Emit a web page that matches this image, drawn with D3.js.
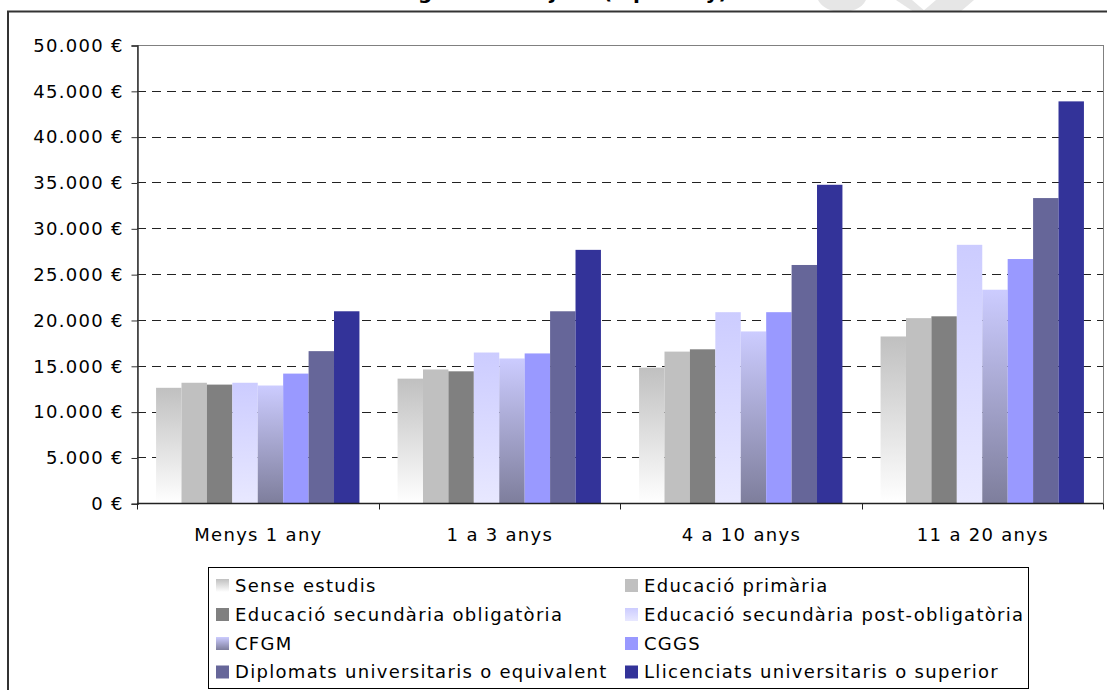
<!DOCTYPE html>
<html>
<head>
<meta charset="utf-8">
<script src="https://cdn.jsdelivr.net/npm/d3@7"></script>
<style>
  html, body { margin: 0; padding: 0; background: #fff; }
  svg { display: block; }
  text { font-family: "DejaVu Sans", Verdana, sans-serif; fill: #000; }
</style>
</head>
<body>
<svg id="chart" width="1107" height="690"></svg>
<script>
// ---- data ----
const categories = ["Menys 1 any", "1 a 3 anys", "4 a 10 anys", "11 a 20 anys"];
const series = [
  "Sense estudis",
  "Educació primària",
  "Educació secundària obligatòria",
  "Educació secundària post-obligatòria",
  "CFGM",
  "CGGS",
  "Diplomats universitaris o equivalent",
  "Llicenciats universitaris o superior"
];
const senseEstudis      = [12600, 13600, 14800, 18200];
const primaria          = [13150, 14600, 16550, 20200];
const secObligatoria    = [12950, 14400, 16800, 20400];
const secPostObligatoria= [13150, 16450, 20850, 28200];
const cfgm              = [12850, 15800, 18750, 23300];
const cggs              = [14150, 16350, 20850, 26650];
const diplomats         = [16600, 20950, 26000, 33300];
const llicenciats       = [20950, 27650, 34750, 43850];
const seriesValues = [senseEstudis, primaria, secObligatoria, secPostObligatoria, cfgm, cggs, diplomats, llicenciats];
const yTicks = [0, 5000, 10000, 15000, 20000, 25000, 30000, 35000, 40000, 45000, 50000];
const titleText = "Ingressos mitjans (€ per any)";

// ---- styles ----
const fills = ["url(#gSense)", "#c0c0c0", "#808080", "url(#gPost)", "url(#gCfgm)", "#9999ff", "#666699", "#333399"];

const svg = d3.select("#chart");
const defs = svg.append("defs");
function grad(id, c1, c2) {
  const g = defs.append("linearGradient").attr("id", id)
    .attr("x1", 0).attr("y1", 0).attr("x2", 0).attr("y2", 1);
  g.append("stop").attr("offset", "0%").attr("stop-color", c1);
  g.append("stop").attr("offset", "100%").attr("stop-color", c2);
}
grad("gSense", "#c0c0c0", "#ffffff");
grad("gPost", "#ccccff", "#e8e8ff");
grad("gCfgm", "#ccccff", "#7e7e9c");

const FS = 18, LS = 1.3;

// watermark fragments (top right)
svg.append("path").attr("d", "M818,0 L866,0 C862,9 850,12 842,12 C832,12 822,8 818,0 Z").attr("fill", "#e6e6e6");
svg.append("path").attr("d", "M896,0 L912,0 L926,12 L914,12 Z M936,0 L974,0 L960,12 L922,12 Z").attr("fill", "#e6e6e6");

// cut-off title
svg.append("text").attr("x", 562).attr("y", -1).attr("text-anchor", "middle")
  .attr("font-size", 20).attr("font-weight", "bold").text(titleText);

// outer frame
svg.append("rect").attr("x", 8).attr("y", 11.5).attr("width", 1140).attr("height", 700)
  .attr("fill", "none").attr("stroke", "#333").attr("stroke-width", 2);

// scales
const pLeft = 137, pRight = 1103, pTop = 45, pBottom = 503.3;
const x0 = d3.scaleBand().domain(categories).range([pLeft, pRight]).paddingInner(0).paddingOuter(0);
const x1 = d3.scaleBand().domain(series).range([0, x0.bandwidth()]).paddingInner(0).paddingOuter(0.75);
const y = d3.scaleLinear().domain([0, 50000]).range([pBottom, pTop]);

// plot border
svg.append("rect").attr("x", pLeft + 0.5).attr("y", Math.round(y(50000)) + 0.5)
  .attr("width", pRight - pLeft).attr("height", Math.round(y(0)) - Math.round(y(50000)))
  .attr("fill", "#fff").attr("stroke", "#808080").attr("stroke-width", 1);

// gridlines
svg.append("g").selectAll("line").data(yTicks.filter(t => t > 0 && t < 50000)).join("line")
  .attr("x1", pLeft).attr("x2", pRight)
  .attr("y1", d => Math.round(y(d)) + 0.5).attr("y2", d => Math.round(y(d)) + 0.5)
  .attr("stroke", "#222").attr("stroke-width", 1).attr("stroke-dasharray", "9,6");

// bars
const groups = svg.append("g").selectAll("g").data(categories).join("g")
  .attr("transform", c => `translate(${x0(c)},0)`);
groups.selectAll("rect").data((c, ci) => series.map((s, si) => ({ s, si, v: seriesValues[si][ci] }))).join("rect")
  .attr("x", d => x1(d.s)).attr("width", x1.bandwidth())
  .attr("y", d => y(d.v)).attr("height", d => y(0) - y(d.v))
  .attr("fill", d => fills[d.si]);

// y axis
const fmt = d3.formatLocale({ decimal: ",", thousands: ".", grouping: [3], currency: ["", " €"] }).format(",.0f");
const yAxis = d3.axisLeft(y).tickValues(yTicks).tickSize(6).tickPadding(9).tickFormat(d => fmt(d) + " €");
const gy = svg.append("g").attr("transform", `translate(${pLeft + 0.5},0.5)`).call(yAxis);
gy.select(".domain").attr("stroke", "#333").attr("stroke-width", 1.5);
gy.selectAll(".tick line").attr("stroke", "#333");
gy.selectAll(".tick text").attr("font-size", FS).attr("letter-spacing", LS)
  .attr("font-family", "DejaVu Sans").attr("fill", "#000").attr("dx", LS);

// x axis
const gx = svg.append("g").attr("transform", `translate(0,${Math.round(y(0)) + 0.5})`);
gx.append("line").attr("x1", pLeft).attr("x2", pRight).attr("stroke", "#222").attr("stroke-width", 1.5);
gx.selectAll("line.tk").data(d3.range(categories.length + 1)).join("line").attr("class", "tk")
  .attr("x1", i => Math.round(pLeft + i * x0.step()) + 0.5).attr("x2", i => Math.round(pLeft + i * x0.step()) + 0.5)
  .attr("y1", 0).attr("y2", 6).attr("stroke", "#222");
gx.selectAll("text").data(categories).join("text")
  .attr("x", c => x0(c) + x0.bandwidth() / 2 + LS / 2).attr("y", 31).attr("dy", "0.35em")
  .attr("text-anchor", "middle").attr("font-size", FS).attr("letter-spacing", LS).text(c => c);

// legend
svg.append("rect").attr("x", 208.5).attr("y", 567.5).attr("width", 820).attr("height", 121)
  .attr("fill", "#fff").attr("stroke", "#000").attr("stroke-width", 1);
const legendCols = [216, 625], legendRowY = [585.5, 614.5, 643.5, 672];
const lg = svg.append("g").selectAll("g").data(series).join("g")
  .attr("transform", (s, i) => `translate(${legendCols[i % 2]},${legendRowY[Math.floor(i / 2)]})`);
lg.append("rect").attr("x", 0).attr("y", -6.5).attr("width", 13).attr("height", 13)
  .attr("fill", (s, i) => fills[i]);
lg.append("text").attr("x", 19).attr("dy", "0.35em").attr("font-size", FS).attr("letter-spacing", LS).text(s => s);
</script>
</body>
</html>
